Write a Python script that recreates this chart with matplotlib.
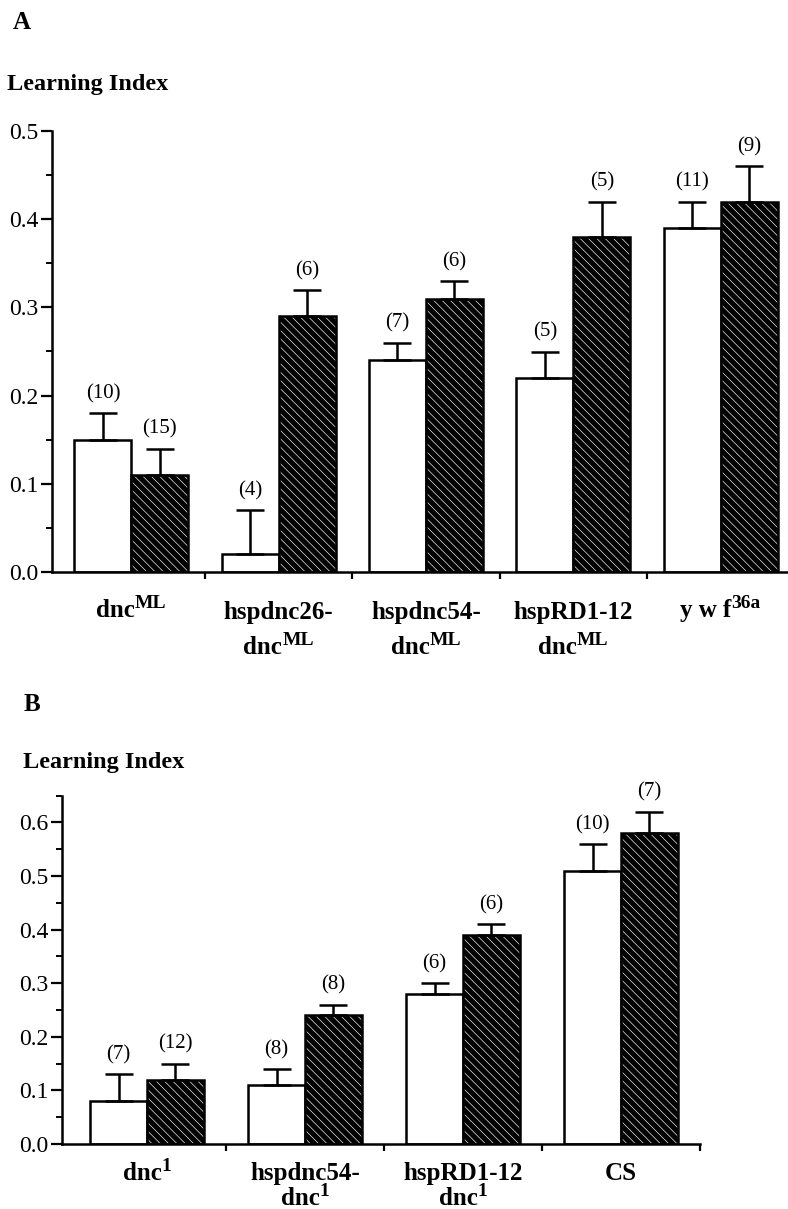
import matplotlib
matplotlib.use("Agg")
import matplotlib.pyplot as plt
import numpy as np
from matplotlib.ticker import MultipleLocator, FormatStrFormatter

plt.rcParams['font.family'] = ['Liberation Serif', 'DejaVu Serif']
plt.rcParams['hatch.linewidth'] = 0.45

# ---------------- data ----------------
# Panel A  (each label line: (main text, superscript))
a_labels = [[("dnc", "ML")],
            [("hspdnc26-", ""), ("dnc", "ML")],
            [("hspdnc54-", ""), ("dnc", "ML")],
            [("hspRD1-12", ""), ("dnc", "ML")],
            [("y w f", "36a")]]
a_open = [0.15, 0.02, 0.24, 0.22, 0.39]
a_open_err = [0.03, 0.05, 0.02, 0.03, 0.03]
a_open_n = ["(10)", "(4)", "(7)", "(5)", "(11)"]
a_hatch = [0.11, 0.29, 0.31, 0.38, 0.42]
a_hatch_err = [0.03, 0.03, 0.02, 0.04, 0.04]
a_hatch_n = ["(15)", "(6)", "(6)", "(5)", "(9)"]

# Panel B
b_labels = [[("dnc", "1")],
            [("hspdnc54-", ""), ("dnc", "1")],
            [("hspRD1-12", ""), ("dnc", "1")],
            [("CS", "")]]
b_open = [0.08, 0.11, 0.28, 0.51]
b_open_err = [0.05, 0.03, 0.02, 0.05]
b_open_n = ["(7)", "(8)", "(6)", "(10)"]
b_hatch = [0.12, 0.24, 0.39, 0.58]
b_hatch_err = [0.03, 0.02, 0.02, 0.04]
b_hatch_n = ["(12)", "(8)", "(6)", "(7)"]

W, H = 788, 1209
fig = plt.figure(figsize=(W / 100, H / 100), dpi=100)
renderer = fig.canvas.get_renderer()

LABEL_FS = 18
SUP_FS = 14


def fy(px):
    return 1 - px / H


def place_line(cx, base_px, main, sup):
    t1 = fig.text(0, fy(base_px), main, fontsize=LABEL_FS, fontweight='bold',
                  ha='left', va='baseline')
    w1 = t1.get_window_extent(renderer).width
    w2 = 0
    t2 = None
    if sup:
        t2 = fig.text(0, fy(base_px - 9), sup, fontsize=SUP_FS, fontweight='bold',
                      ha='left', va='baseline')
        w2 = t2.get_window_extent(renderer).width
    left = cx - (w1 + w2) / 2
    t1.set_x(left / W)
    if t2 is not None:
        t2.set_x((left + w1) / W)


def draw_panel(ax, labels, ov, oe, on, hv, he, hn, width, ymax, xlim,
               base1, base2, single_base):
    n = len(labels)
    idx = np.arange(n)
    xo = idx + 0.5 - width / 2
    xh = idx + 0.5 + width / 2
    lw = 1.8
    ax.bar(xo, ov, width, facecolor='white', edgecolor='black', linewidth=lw, zorder=2)
    ax.bar(xh, hv, width, facecolor='black', edgecolor='white', linewidth=0,
           hatch='\\\\\\\\', zorder=2)
    ax.bar(xh, hv, width, fill=False, edgecolor='black', linewidth=lw, zorder=3)
    ax.errorbar(xo, ov, yerr=[np.zeros(n), oe], fmt='none', ecolor='black',
                elinewidth=lw, capsize=10, capthick=lw, zorder=4)
    ax.errorbar(xh, hv, yerr=[np.zeros(n), he], fmt='none', ecolor='black',
                elinewidth=lw, capsize=10, capthick=lw, zorder=4)
    for x, v, e, t in list(zip(xo, ov, oe, on)) + list(zip(xh, hv, he, hn)):
        ax.annotate(t, (x, v + e), xytext=(0, 7), textcoords='offset points',
                    ha='center', va='bottom', fontsize=15)
    ax.set_xlim(*xlim)
    ax.set_ylim(0, ymax)
    ax.set_xticks(np.arange(1, n + (1 if xlim[1] >= n else 0)))
    ax.set_xticklabels([])
    ax.yaxis.set_major_locator(MultipleLocator(0.1))
    ax.yaxis.set_minor_locator(MultipleLocator(0.05))
    ax.yaxis.set_major_formatter(FormatStrFormatter('%.1f'))
    ax.tick_params(axis='y', which='major', length=8, width=1.6, labelsize=17, pad=2)
    ax.tick_params(axis='y', which='minor', length=4, width=1.4)
    ax.tick_params(axis='x', which='major', length=5, width=1.6)
    for s in ['top', 'right']:
        ax.spines[s].set_visible(False)
    for s in ['left', 'bottom']:
        ax.spines[s].set_linewidth(1.8)
    for i, lines in enumerate(labels):
        cx = ax.transData.transform((i + 0.5, 0))[0]
        if len(lines) == 1:
            place_line(cx, single_base, *lines[0])
        else:
            place_line(cx, base1, *lines[0])
            place_line(cx, base2, *lines[1])


# Panel A axes
axA = fig.add_axes([52 / W, fy(572), (W - 52) / W, (572 - 131) / H])
# Panel B axes
axB = fig.add_axes([62 / W, fy(1144), (700 - 62) / W, (1144 - 795.6) / H])

draw_panel(axA, a_labels, a_open, a_open_err, a_open_n, a_hatch, a_hatch_err, a_hatch_n,
           0.387, 0.5, (-0.039, 4.958), 619, 654, 617)
draw_panel(axB, b_labels, b_open, b_open_err, b_open_n, b_hatch, b_hatch_err, b_hatch_n,
           0.36, 0.65, (-0.038, 4.0), 1180, 1205, 1180)

fig.text(13 / W, fy(29), "A", fontsize=18, fontweight='bold', va='baseline')
fig.text(7 / W, fy(90), "Learning Index", fontsize=17.5, fontweight='bold', va='baseline')
fig.text(24 / W, fy(711), "B", fontsize=18, fontweight='bold', va='baseline')
fig.text(23 / W, fy(768), "Learning Index", fontsize=17.5, fontweight='bold', va='baseline')

fig.savefig("out.png", dpi=100)
